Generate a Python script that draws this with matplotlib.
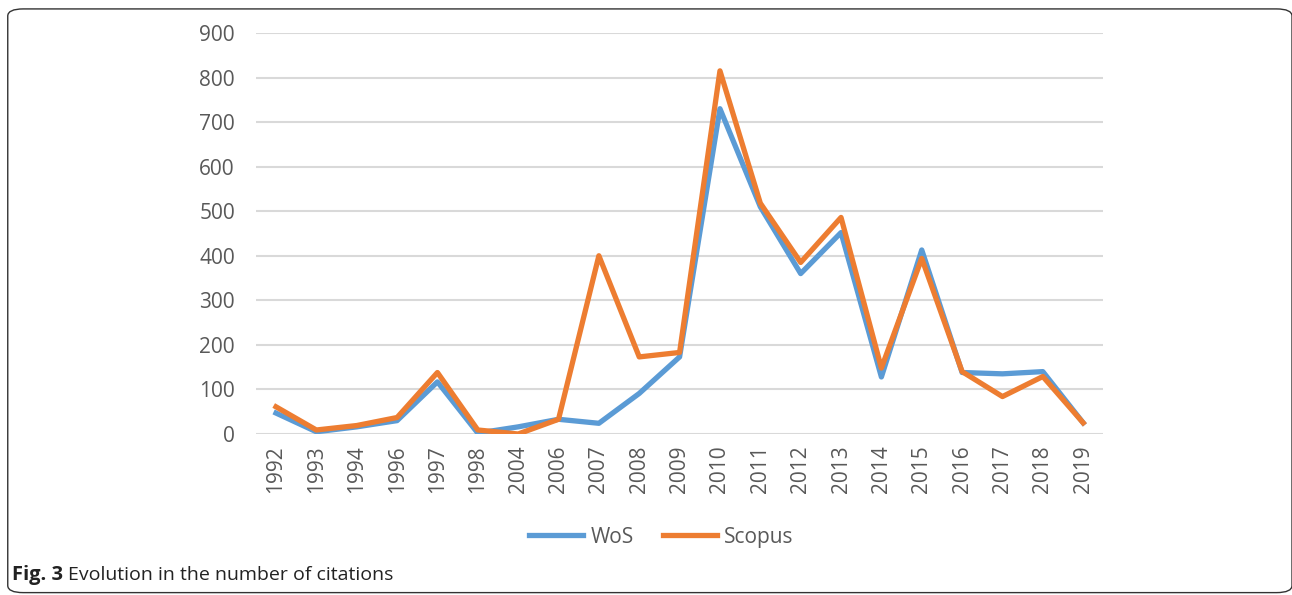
import matplotlib
matplotlib.use("Agg")
from matplotlib import pyplot as plt
from matplotlib.patches import FancyBboxPatch
import numpy as np

years = ["1992", "1993", "1994", "1996", "1997", "1998", "2004", "2006", "2007", "2008",
         "2009", "2010", "2011", "2012", "2013", "2014", "2015", "2016", "2017", "2018", "2019"]
wos = [47, 5, 16, 30, 117, 2, 16, 33, 24, 91,
       173, 730, 510, 360, 452, 128, 413, 138, 135, 140, 25]
scopus = [61, 9, 19, 37, 138, 9, 0, 33, 400, 173,
          183, 815, 518, 385, 486, 148, 394, 140, 84, 129, 25]

plt.rcParams['font.family'] = ['Open Sans', 'DejaVu Sans']
tick_color = "#595959"

fig = plt.figure(figsize=(12.92, 5.95), dpi=100)
ax = fig.add_axes([0.198, 0.2706, 0.656, 0.674])

x = np.arange(len(years))
ax.plot(x, wos, color="#5b9bd5", linewidth=3.8, label="WoS", solid_joinstyle="round")
ax.plot(x, scopus, color="#ed7d31", linewidth=3.8, label="Scopus", solid_joinstyle="round")

ax.set_xlim(-0.5, len(years) - 0.5)
ax.set_ylim(0, 900)
ax.set_yticks(np.arange(0, 901, 100))
ax.set_xticks(x)
ax.set_xticklabels(years, rotation=90)
ax.tick_params(axis="both", length=0, labelsize=15, colors=tick_color)
ax.tick_params(axis="y", pad=15)
ax.tick_params(axis="x", pad=8)
ax.grid(axis="y", color="#d9d9d9", linewidth=1.5)
ax.set_axisbelow(True)
for s in ax.spines.values():
    s.set_visible(False)

leg = fig.legend(loc="center", bbox_to_anchor=(0.512, 0.097), ncol=2, frameon=False,
                 fontsize=15, handlelength=2.6, columnspacing=1.4, handletextpad=0.35)
for t in leg.get_texts():
    t.set_color(tick_color)

# caption
fig.canvas.draw()
bold = fig.text(0.009, 0.034, "Fig. 3", fontsize=14.5, fontweight="bold", va="center", ha="left",
                color="#222222")
bb = bold.get_window_extent(renderer=fig.canvas.get_renderer())
fig.text(bb.x1 / fig.bbox.width + 0.004, 0.034, "Evolution in the number of citations",
         fontsize=14, va="center", ha="left", color="#222222")

# rounded frame around the figure
frame = FancyBboxPatch((0.006, 0.004), 0.994, 0.981, transform=fig.transFigure,
                       boxstyle="round,pad=0,rounding_size=0.012", fill=False,
                       edgecolor="#333333", linewidth=1.0, clip_on=False)
fig.patches.append(frame)

fig.savefig("out.png", dpi=100)
